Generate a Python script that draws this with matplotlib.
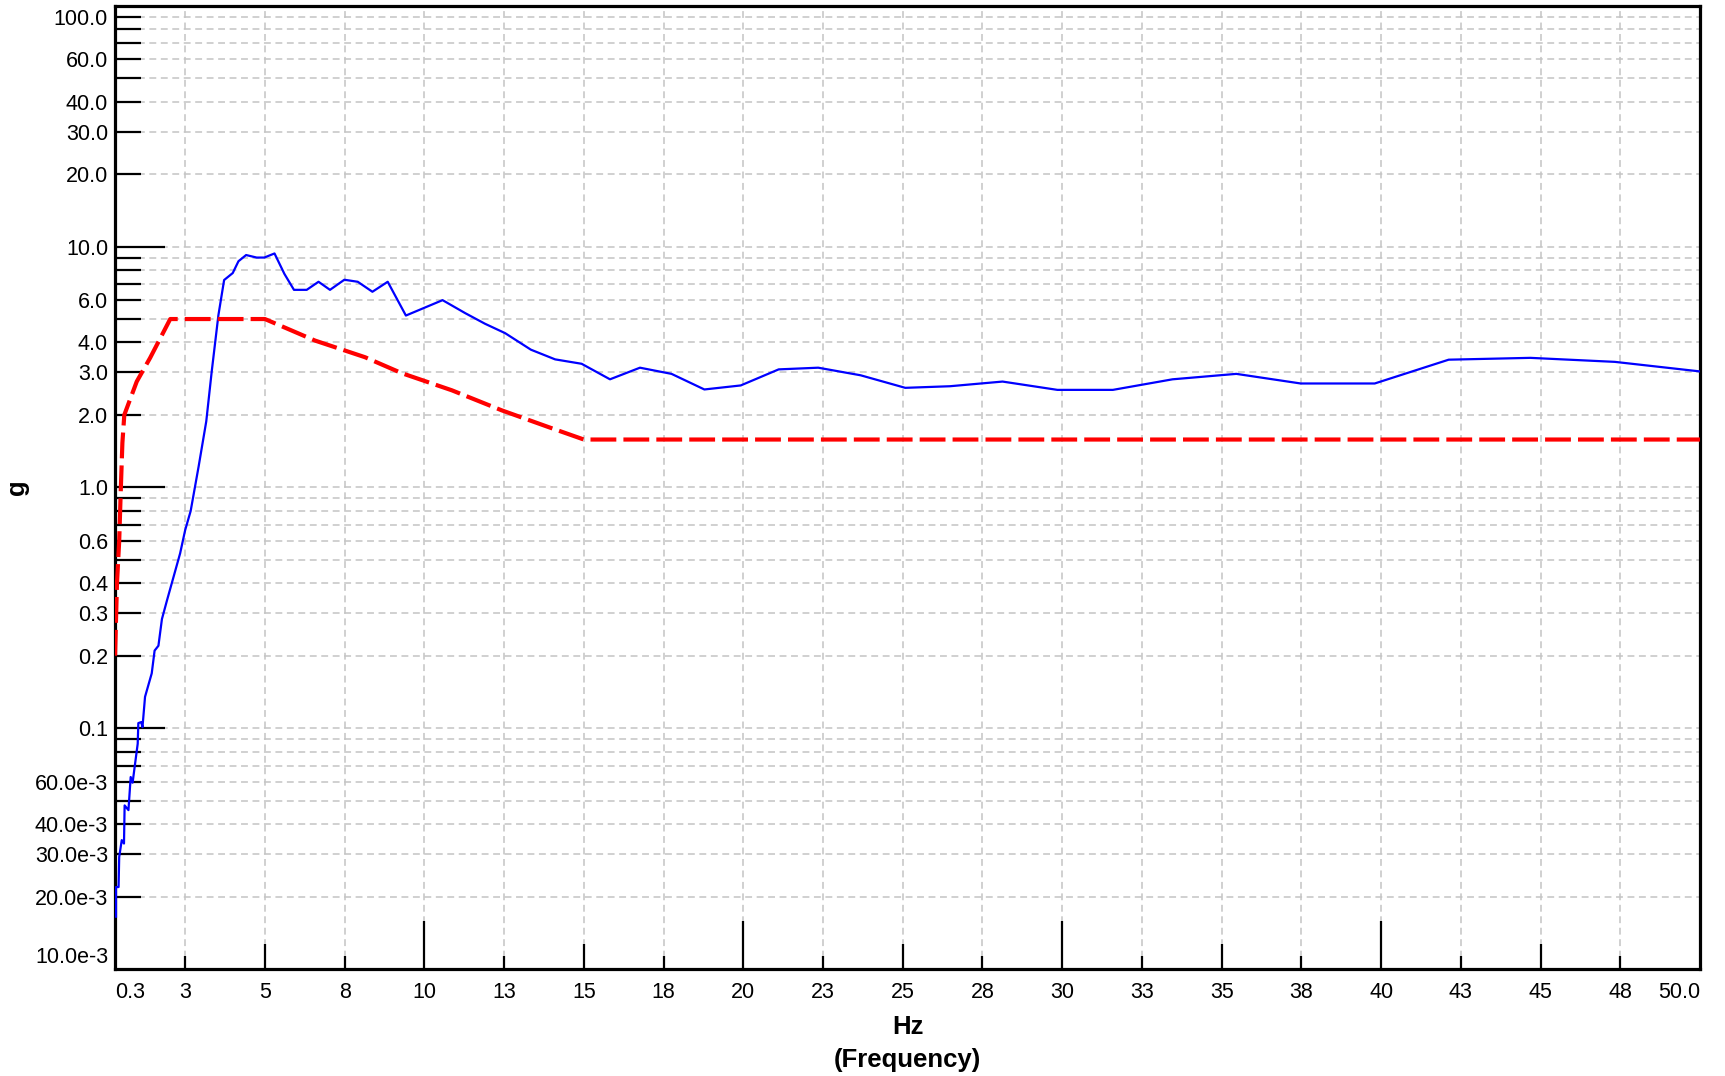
import matplotlib
matplotlib.use("Agg")
import matplotlib.pyplot as plt
import numpy as np
from matplotlib.ticker import NullLocator

plt.rcParams['font.family'] = ['Liberation Sans', 'DejaVu Sans']

# measured response (blue)
resp_hz = [0.33, 0.33, 0.41, 0.43, 0.51, 0.58, 0.60, 0.72, 0.79, 0.85, 1.01, 1.03,
           1.12, 1.16, 1.24, 1.45, 1.54, 1.66, 1.77, 1.93, 2.34, 2.50, 2.67, 2.92,
           3.16, 3.33, 3.54, 3.72, 3.99, 4.17, 4.41, 4.74, 4.98, 5.30, 5.61, 5.91,
           6.31, 6.68, 7.04, 7.49, 7.91, 8.37, 8.85, 9.42, 10.57, 11.28, 11.90, 12.53,
           13.34, 14.10, 14.93, 15.82, 16.76, 17.75, 18.78, 19.92, 21.11, 22.35, 23.68,
           25.08, 26.48, 28.13, 29.85, 31.59, 33.46, 35.46, 37.48, 39.80, 42.12, 44.68,
           47.33, 50.0]
resp_g = [0.0165, 0.0219, 0.0219, 0.0292, 0.0343, 0.0332, 0.0478, 0.0457, 0.0627, 0.0594,
          0.0862, 0.105, 0.106, 0.101, 0.135, 0.169, 0.210, 0.220, 0.284, 0.340, 0.532,
          0.666, 0.797, 1.22, 1.88, 3.02, 5.18, 7.26, 7.76, 8.69, 9.22, 9.0, 9.0, 9.36,
          7.70, 6.61, 6.61, 7.14, 6.61, 7.28, 7.14, 6.49, 7.14, 5.17, 5.99, 5.29, 4.78,
          4.37, 3.73, 3.40, 3.26, 2.81, 3.14, 2.96, 2.55, 2.65, 3.09, 3.14, 2.92, 2.59,
          2.63, 2.75, 2.54, 2.54, 2.81, 2.96, 2.70, 2.70, 3.39, 3.45, 3.32, 3.03]

# limit profile (red dashed)
limit_hz = [0.3, 0.36, 0.43, 0.48, 0.53, 0.59, 0.98, 1.40, 2.03, 5.0, 6.57, 8.14,
            9.29, 10.86, 12.42, 13.89, 15.0, 50.0]
limit_g = [0.2, 0.4, 0.6, 0.98, 1.53, 2.0, 2.75, 3.45, 5.0, 5.0, 4.07, 3.47,
           2.98, 2.53, 2.09, 1.78, 1.58, 1.58]

xtick_pos = [0.3, 2.5, 5, 7.5, 10, 12.5, 15, 17.5, 20, 22.5, 25, 27.5, 30, 32.5,
             35, 37.5, 40, 42.5, 45, 47.5, 50]
xtick_lab = ['0.3', '3', '5', '8', '10', '13', '15', '18', '20', '23', '25', '28',
             '30', '33', '35', '38', '40', '43', '45', '48', '50.0']

ytick_pos = [0.0114, 0.02, 0.03, 0.04, 0.06, 0.1, 0.2, 0.3, 0.4, 0.6, 1, 2, 3, 4, 6,
             10, 20, 30, 40, 60, 90]
ytick_lab = ['10.0e-3', '20.0e-3', '30.0e-3', '40.0e-3', '60.0e-3', '0.1', '0.2', '0.3',
             '0.4', '0.6', '1.0', '2.0', '3.0', '4.0', '6.0', '10.0', '20.0', '30.0',
             '40.0', '60.0', '100.0']

fig = plt.figure(figsize=(17.25, 10.76), dpi=100)
ax = fig.add_axes([0.0667, 0.0994, 0.9188, 0.8953])
ax.set_yscale('log')
ax.set_xlim(0.3, 50)
ax.set_ylim(0.01, 100)

# grid
grid_x = np.arange(2.5, 50, 2.5)
grid_y = [k * 10.0 ** n for n in range(-2, 2) for k in range(2, 10)] + [0.1, 1, 10]
gkw = dict(color='#c4c4c4', lw=1.1, dashes=(4.5, 3), zorder=0)
for gx in grid_x:
    ax.axvline(gx, **gkw)
for gy in grid_y:
    ax.axhline(gy, **gkw)

# hand drawn tick marks of three lengths (inside the frame)
xt_len = [0.05 if v % 10 == 0 else (0.026 if v % 5 == 0 else 0.0135) for v in grid_x]
ax.vlines(grid_x, 0, xt_len, transform=ax.get_xaxis_transform(), color='black', lw=1.6,
          zorder=3)
yt_len = [0.0315 if v in (0.1, 1, 10) else 0.0165 for v in grid_y]
ax.hlines(grid_y, 0, yt_len, transform=ax.get_yaxis_transform(), color='black', lw=1.6,
          zorder=3)

ax.plot(resp_hz, resp_g, color='#0000ff', lw=1.6, zorder=4)
ax.plot(limit_hz, limit_g, color='#ff0000', lw=3.0, dashes=(6.2, 1.7), zorder=5)

ax.set_xticks(xtick_pos)
ax.set_xticklabels(xtick_lab)
ax.set_yticks(ytick_pos)
ax.set_yticklabels(ytick_lab)
ax.yaxis.set_minor_locator(NullLocator())
ax.xaxis.set_minor_locator(NullLocator())
ax.tick_params(axis='both', length=0, labelsize=15.5, colors='black')
ax.tick_params(axis='x', pad=9)
ax.tick_params(axis='y', pad=5)
xl = ax.get_xticklabels()
xl[0].set_ha('left')
xl[-1].set_ha('right')

for sp in ax.spines.values():
    sp.set_linewidth(2.3)
    sp.set_color('black')

ax.set_xlabel('Hz\n(Frequency)', fontsize=18.5, fontweight='bold', linespacing=1.45,
              labelpad=9)
ax.set_ylabel('g', fontsize=18.5, fontweight='bold')
ax.yaxis.set_label_coords(-0.054, 0.5)

fig.savefig('out.png', dpi=100)
